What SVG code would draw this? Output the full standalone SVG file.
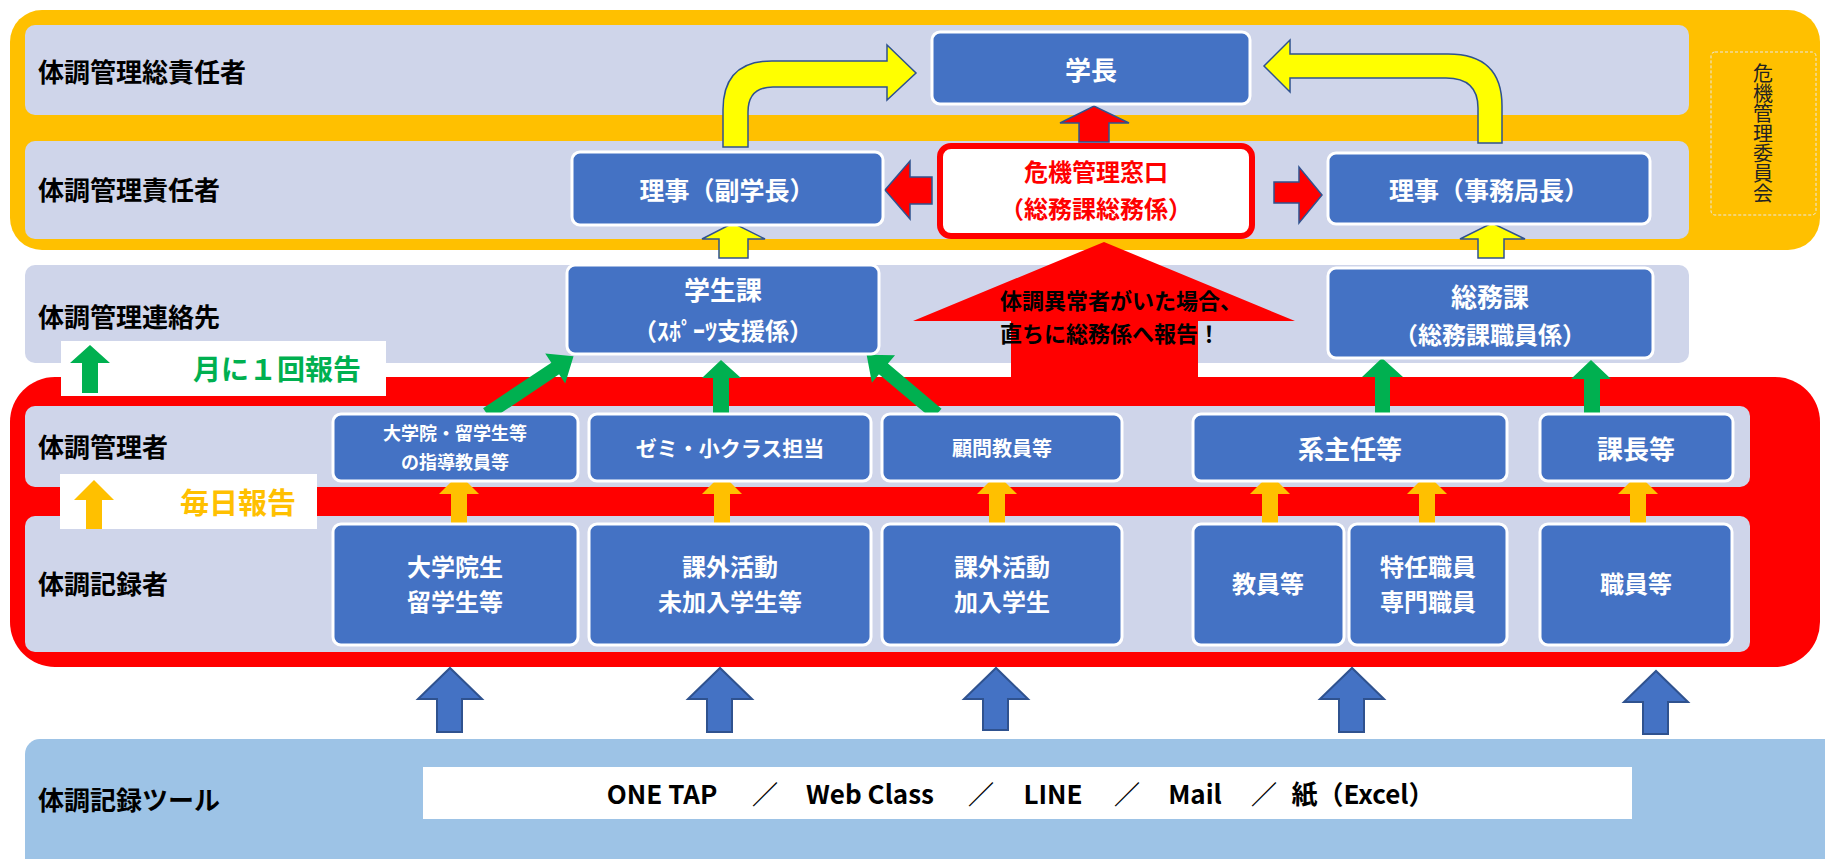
<svg xmlns="http://www.w3.org/2000/svg" width="1825" height="859" viewBox="0 0 1825 859">
<defs>
<style>
.band{fill:#CFD5EA}
.box{fill:#4472C4;stroke:#FFFFFF;stroke-width:3}
.wt{fill:#FFFFFF;font-family:"Noto Sans CJK JP","Noto Sans",sans-serif;font-weight:bold;text-anchor:middle;dominant-baseline:central}
.lbl{fill:#000000;font-family:"Noto Sans CJK JP","Noto Sans",sans-serif;font-weight:bold;font-size:26px;dominant-baseline:central}
.ya{fill:#FFFF00;stroke:#2F528F;stroke-width:1.5}
.ra{fill:#FF0000;stroke:#2F528F;stroke-width:1.5}
.ga{fill:#00B050}
.oa{fill:#FFC000}
.ba{fill:#4472C4;stroke:#2F528F;stroke-width:2}
</style>
</defs>
<rect x="10" y="10" width="1810" height="240" rx="32" fill="#FFC000"/>
<rect x="10" y="377" width="1810" height="290" rx="45" fill="#FF0000"/>
<rect class="band" x="25" y="25" width="1664" height="90" rx="10"/>
<rect class="band" x="25" y="141" width="1664" height="98" rx="10"/>
<rect class="band" x="25" y="265" width="1664" height="98" rx="10"/>
<rect class="band" x="25" y="406" width="1725" height="81" rx="10"/>
<rect class="band" x="25" y="516" width="1725" height="136" rx="10"/>
<rect x="25" y="739" width="1830" height="160" rx="15" fill="#9DC3E6"/>

<g id="labels">
<text class="lbl" x="38" y="70">体調管理総責任者</text>
<text class="lbl" x="38" y="188">体調管理責任者</text>
<text class="lbl" x="38" y="315">体調管理連絡先</text>
<text class="lbl" x="38" y="445">体調管理者</text>
<text class="lbl" x="38" y="582">体調記録者</text>
<text class="lbl" x="38" y="798">体調記録ツール</text>
</g>

<g id="committee">
<rect x="1711" y="52" width="105" height="163" rx="4" fill="none" stroke="#E8E8E8" stroke-width="1" stroke-dasharray="3 2"/>
<text x="1763" y="133" writing-mode="vertical-rl" text-anchor="middle" font-family="'Noto Sans CJK JP',sans-serif" font-size="20" fill="#222222">危機管理委員会</text>
</g>

<g id="connectors">
<path class="ya" d="M723,147 L723,110 Q723,61 772,61 L887,61 L887,45 L916,73 L887,100 L887,87 L773,87 Q748,87 748,112 L748,147 Z"/>
<path class="ya" d="M1502,143 L1502,106 Q1502,54 1448,54 L1290,54 L1290,40 L1264,66 L1290,92 L1290,78 L1446,78 Q1478,78 1478,108 L1478,143 Z"/>
<path class="ra" d="M1079,142 L1079,123 L1060,123 L1094,106 L1129,123 L1109,123 L1109,142 Z"/>
<path class="ra" d="M932,177 L910,177 L910,161 L885,190 L910,219 L910,204 L932,204 Z"/>
<path class="ra" d="M1274,182 L1299,182 L1299,167 L1322,195 L1299,223 L1299,203 L1274,203 Z"/>
<path class="ya" d="M719,258 L719,239 L702,239 L733,223 L765,239 L748,239 L748,258 Z"/>
<path class="ya" d="M1478,258 L1478,239 L1460,239 L1492,223 L1525,239 L1504,239 L1504,258 Z"/>
<path fill="#FF0000" d="M1011,378 L1011,321 L913,321 L1104,242 L1295,321 L1198,321 L1198,378 Z"/>
<path class="ga" transform="translate(487,414) rotate(56.3)" d="M-7,0 L-7,-82 L-18,-82 L0,-104 L18,-82 L7,-82 L7,0 Z"/>
<path class="ga" transform="translate(937,414) rotate(-49.9)" d="M-7,0 L-7,-70 L-18,-70 L0,-92 L18,-70 L7,-70 L7,0 Z"/>
<path class="ga" d="M713,414 L713,378 L702,378 L721,360 L741,378 L729,378 L729,414 Z"/>
<path class="ga" d="M1375,415 L1375,377 L1362,377 L1382,358 L1403,377 L1390,377 L1390,415 Z"/>
<path class="ga" d="M1584,417 L1584,379 L1571,379 L1591,360 L1611,379 L1600,379 L1600,417 Z"/>
<path class="oa" d="M451,523 L451,494 L439,494 L459,474 L479,494 L467,494 L467,523 Z"/>
<path class="oa" d="M714,523 L714,494 L702,494 L722,474 L742,494 L730,494 L730,523 Z"/>
<path class="oa" d="M989,523 L989,494 L977,494 L997,474 L1017,494 L1005,494 L1005,523 Z"/>
<path class="oa" d="M1262,523 L1262,494 L1250,494 L1270,474 L1290,494 L1278,494 L1278,523 Z"/>
<path class="oa" d="M1419,523 L1419,494 L1407,494 L1427,474 L1447,494 L1435,494 L1435,523 Z"/>
<path class="oa" d="M1630,523 L1630,494 L1618,494 L1638,474 L1658,494 L1646,494 L1646,523 Z"/>
<path class="ba" d="M437,732 L437,699 L418,699 L450,668 L482,699 L462,699 L462,732 Z"/>
<path class="ba" d="M707,732 L707,699 L688,699 L720,668 L752,699 L732,699 L732,732 Z"/>
<path class="ba" d="M983,730 L983,699 L964,699 L996,668 L1028,699 L1008,699 L1008,730 Z"/>
<path class="ba" d="M1339,732 L1339,699 L1320,699 L1352,668 L1384,699 L1364,699 L1364,732 Z"/>
<path class="ba" d="M1643,734 L1643,702 L1624,702 L1656,671 L1688,702 L1668,702 L1668,734 Z"/>
</g>

<g id="alert-text">
<text font-family="'Noto Sans CJK JP',sans-serif" font-weight="bold" font-size="22" fill="#000000" dominant-baseline="central"><tspan x="1000" y="299">体調異常者がいた場合、</tspan><tspan x="1000" y="332">直ちに総務係へ報告！</tspan></text>
</g>

<g id="legend-monthly">
<rect x="61" y="341" width="325" height="55" fill="#FFFFFF"/>
<path class="ga" d="M82,393 L82,363 L70,363 L90,345 L110,363 L98,363 L98,393 Z"/>
<text x="277" y="368" text-anchor="middle" font-family="'Noto Sans CJK JP',sans-serif" font-weight="bold" font-size="28" fill="#00B050" dominant-baseline="central">月に１回報告</text>
</g>
<g id="legend-daily">
<rect x="60" y="474" width="257" height="55" fill="#FFFFFF"/>
<path class="oa" d="M86,529 L86,500 L74,500 L94,480 L114,500 L102,500 L102,529 Z"/>
<text x="238" y="501" text-anchor="middle" font-family="'Noto Sans CJK JP',sans-serif" font-weight="bold" font-size="29" fill="#FFC000" dominant-baseline="central">毎日報告</text>
</g>

<g id="n-president"><rect class="box" x="932" y="32" width="318" height="72" rx="8"/><text class="wt" x="1091" y="68" font-size="26">学長</text></g>
<g id="n-vp"><rect class="box" x="572" y="152" width="311" height="73" rx="8"/><text class="wt" x="727" y="189" font-size="25">理事（副学長）</text></g>
<g id="n-crisis"><rect x="940" y="146" width="312" height="90" rx="11" fill="#FFFFFF" stroke="#FF0000" stroke-width="6"/>
<text x="1096" y="170" text-anchor="middle" font-family="'Noto Sans CJK JP',sans-serif" font-weight="bold" font-size="24" fill="#FF0000" dominant-baseline="central">危機管理窓口</text>
<text x="1096" y="207" text-anchor="middle" font-family="'Noto Sans CJK JP',sans-serif" font-weight="bold" font-size="24" fill="#FF0000" dominant-baseline="central">（総務課総務係）</text></g>
<g id="n-secgen"><rect class="box" x="1328" y="153" width="322" height="71" rx="8"/><text class="wt" x="1489" y="189" font-size="25">理事（事務局長）</text></g>
<g id="n-student"><rect class="box" x="567" y="265" width="312" height="89" rx="8"/><text class="wt" x="723" y="288" font-size="26">学生課</text><text class="wt" x="723" y="329" font-size="24">（ｽﾎﾟｰﾂ支援係）</text></g>
<g id="n-general"><rect class="box" x="1328" y="268" width="325" height="90" rx="8"/><text class="wt" x="1490" y="295" font-size="26">総務課</text><text class="wt" x="1490" y="333" font-size="24">（総務課職員係）</text></g>

<g id="m-grad"><rect class="box" x="333" y="414" width="245" height="67" rx="8"/><text class="wt" x="455" y="432" font-size="18">大学院・留学生等</text><text class="wt" x="455" y="461" font-size="18">の指導教員等</text></g>
<g id="m-seminar"><rect class="box" x="589" y="414" width="282" height="67" rx="8"/><text class="wt" x="730" y="447" font-size="21">ゼミ・小クラス担当</text></g>
<g id="m-advisor"><rect class="box" x="882" y="414" width="240" height="67" rx="8"/><text class="wt" x="1002" y="447" font-size="20">顧問教員等</text></g>
<g id="m-chief"><rect class="box" x="1193" y="414" width="314" height="67" rx="8"/><text class="wt" x="1350" y="447" font-size="26">系主任等</text></g>
<g id="m-head"><rect class="box" x="1540" y="414" width="193" height="67" rx="8"/><text class="wt" x="1636" y="447" font-size="26">課長等</text></g>

<g id="r-grad"><rect class="box" x="333" y="524" width="245" height="121" rx="8"/><text class="wt" x="455" y="565" font-size="24">大学院生</text><text class="wt" x="455" y="600" font-size="24">留学生等</text></g>
<g id="r-noclub"><rect class="box" x="589" y="524" width="282" height="121" rx="8"/><text class="wt" x="730" y="565" font-size="24">課外活動</text><text class="wt" x="730" y="600" font-size="24">未加入学生等</text></g>
<g id="r-club"><rect class="box" x="882" y="524" width="240" height="121" rx="8"/><text class="wt" x="1002" y="565" font-size="24">課外活動</text><text class="wt" x="1002" y="600" font-size="24">加入学生</text></g>
<g id="r-faculty"><rect class="box" x="1193" y="524" width="151" height="121" rx="8"/><text class="wt" x="1268" y="582" font-size="24">教員等</text></g>
<g id="r-special"><rect class="box" x="1349" y="524" width="158" height="121" rx="8"/><text class="wt" x="1428" y="565" font-size="24">特任職員</text><text class="wt" x="1428" y="600" font-size="24">専門職員</text></g>
<g id="r-staff"><rect class="box" x="1540" y="524" width="192" height="121" rx="8"/><text class="wt" x="1636" y="582" font-size="24">職員等</text></g>

<g id="tools">
<rect x="423" y="767" width="1209" height="52" fill="#FFFFFF"/>
<text y="792" font-family="'Noto Sans CJK JP',sans-serif" font-weight="bold" font-size="26" fill="#000000" text-anchor="middle" dominant-baseline="central"><tspan x="662">ONE TAP</tspan><tspan x="765">／</tspan><tspan x="870">Web Class</tspan><tspan x="981">／</tspan><tspan x="1053">LINE</tspan><tspan x="1127">／</tspan><tspan x="1195">Mail</tspan><tspan x="1264">／</tspan><tspan x="1363">紙（Excel）</tspan></text>
</g>
</svg>
